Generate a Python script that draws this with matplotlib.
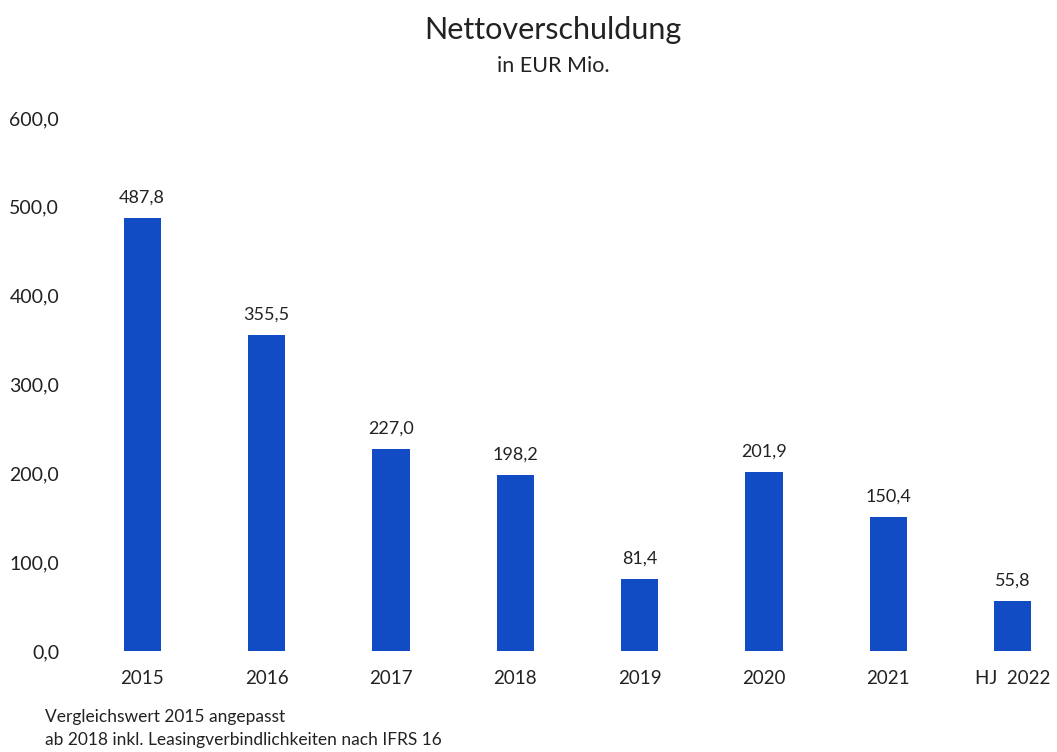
"""
Nettoverschuldung in EUR Mio. - bar chart with value labels.
"""

import matplotlib.pyplot as plt

plt.rcParams["font.family"] = ["Lato", "DejaVu Sans"]

years = ["2015", "2016", "2017", "2018", "2019", "2020", "2021", "HJ  2022"]
values = [487.8, 355.5, 227.0, 198.2, 81.4, 201.9, 150.4, 55.8]
value_labels = ["487,8", "355,5", "227,0", "198,2", "81,4", "201,9", "150,4", "55,8"]
y_ticks = [0, 100, 200, 300, 400, 500, 600]
y_tick_labels = ["0,0", "100,0", "200,0", "300,0", "400,0", "500,0", "600,0"]

bar_color = "#124CC4"
text_color = "#222222"

fig = plt.figure(figsize=(10.57, 7.52), dpi=100)
ax = fig.add_axes([80 / 1057, 1 - 651 / 752, 970 / 1057, (651 - 118) / 752])

x = range(len(years))
bars = ax.bar(x, values, width=0.3, color=bar_color)

# Value labels above the bars
for bar, label in zip(bars, value_labels):
    ax.annotate(
        label,
        (bar.get_x() + bar.get_width() / 2, bar.get_height()),
        xytext=(0, 9),
        textcoords="offset points",
        ha="center",
        va="bottom",
        fontsize=13,
        color=text_color,
    )

ax.set_xlim(-0.5, 7.3)
ax.set_ylim(0, 600)
ax.set_xticks(list(x))
ax.set_xticklabels(years, fontsize=13.5, color=text_color)
ax.set_yticks(y_ticks)
ax.set_yticklabels(y_tick_labels, fontsize=14, color=text_color)
ax.tick_params(axis="both", length=0)
ax.tick_params(axis="x", pad=14)
ax.tick_params(axis="y", pad=15)
for spine in ax.spines.values():
    spine.set_visible(False)

# Titles
fig.text(553 / 1057, 1 - 30 / 752, "Nettoverschuldung", ha="center", va="center",
         fontsize=22, color=text_color)
fig.text(553 / 1057, 1 - 66 / 752, "in EUR Mio.", ha="center", va="center",
         fontsize=15.5, color=text_color)

# Footnotes
fig.text(45 / 1057, 1 - 717 / 752, "Vergleichswert 2015 angepasst", ha="left", va="center",
         fontsize=12.5, color=text_color)
fig.text(45 / 1057, 1 - 740 / 752, "ab 2018 inkl. Leasingverbindlichkeiten nach IFRS 16",
         ha="left", va="center", fontsize=12.5, color=text_color)

plt.savefig("out.png", dpi=100)
